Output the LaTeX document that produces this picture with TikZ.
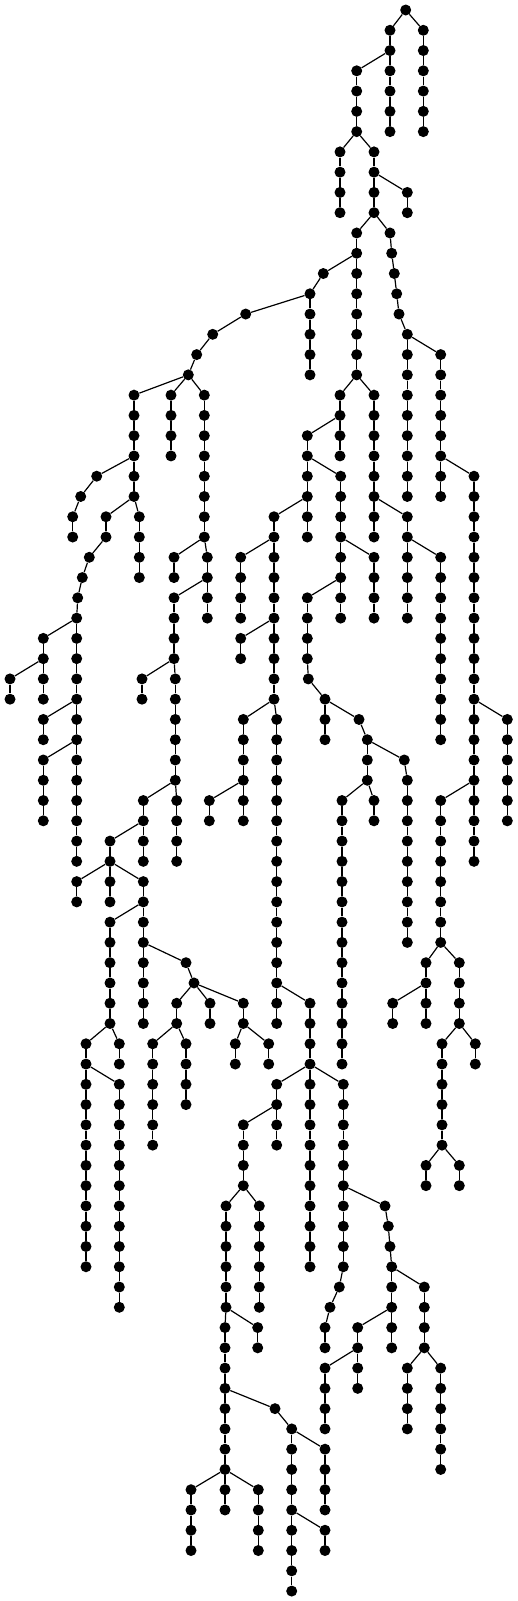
\documentclass[tikz,border=0pt]{standalone}
\usetikzlibrary{calc}
\tikzset{
  tdot/.style={circle,fill=black,draw=none,inner sep=0pt,minimum size=11pt},
  tedge/.style={line width=1.2pt,black}
}
\newcommand\ch[5]{%
  \foreach \l in {#4,...,#5}{\node[tdot] (#1-\l) at (#3,{-10-20.27*\l}) {};}%
  \draw[tedge] (#2) -- (#1-#4);%
  \foreach \l in {#4,...,#5}{\ifnum\l>#4\relax\pgfmathtruncatemacro\mprev{\l-1}\draw[tedge] (#1-\mprev) -- (#1-\l);\fi}%
}
\newcommand\nd[4]{\node[tdot] (#1) at (#3,{-10-20.27*#4}) {};\draw[tedge] (#2) -- (#1);}
\begin{document}
\begin{tikzpicture}[x=1pt,y=1pt]
\useasboundingbox (0,0) rectangle (518,-1601);
\node[tdot] (r) at (405.7,-10) {};
\ch{a}{r}{390}{1}{6}
\ch{b}{r}{423.3}{1}{6}
\ch{c}{a-2}{356.7}{3}{6}
\ch{d}{c-6}{340}{7}{10}
\ch{e}{c-6}{374}{7}{10}
\ch{f}{e-8}{407.3}{9}{10}
\ch{g}{e-10}{356.7}{11}{18}
\nd{h11}{e-10}{390}{11}
\nd{h12}{h11}{391.7}{12}
\nd{h13}{h12}{394.3}{13}
\nd{h14}{h13}{396.7}{14}
\nd{h15}{h14}{399}{15}
\ch{h}{h15}{407.3}{16}{24}
\nd{i13}{g-12}{323.3}{13}
\ch{i}{i13}{310}{14}{18}
\nd{i15}{i-14}{245.7}{15}
\nd{i16}{i15}{212.7}{16}
\nd{i17}{i16}{196.7}{17}
\nd{i18}{i17}{188.3}{18}
\ch{j}{i18}{134}{19}{24}
\ch{k}{i18}{171}{19}{22}
\ch{l}{i18}{204.3}{19}{26}
\nd{m23}{j-22}{96.7}{23}
\nd{m24}{m23}{80.7}{24}
\ch{m}{m24}{72.7}{25}{26}
\ch{n}{j-24}{106}{25}{26}
\nd{n27}{n-26}{89.3}{27}
\nd{n28}{n27}{82.3}{28}
\nd{n29}{n28}{77.7}{29}
\ch{o}{n29}{76.7}{30}{42}
\ch{p}{o-30}{43.3}{31}{34}
\ch{q}{p-32}{10}{33}{34}
\ch{s}{o-34}{43.3}{35}{36}
\ch{t}{o-36}{43.3}{37}{40}
\ch{u}{j-24}{139.3}{25}{28}
\ch{v}{l-26}{174}{27}{28}
\ch{w}{l-26}{207.3}{27}{30}
\ch{xx}{w-28}{174}{29}{32}
\ch{yy}{xx-32}{142}{33}{34}
\ch{zz}{xx-32}{175.3}{33}{38}
\ch{aa}{zz-38}{143.3}{39}{42}
\ch{ab}{zz-38}{176.7}{39}{42}
\ch{ac}{aa-40}{110}{41}{44}
\ch{ad}{ac-42}{76.7}{43}{44}
\ch{ae}{ac-42}{143.3}{43}{50}
\ch{af}{ae-44}{110}{45}{50}
\ch{ag}{af-50}{86}{51}{62}
\ch{ah}{af-50}{119.3}{51}{52}
\ch{ai}{ag-52}{119.3}{53}{64}
\nd{aj47}{ae-46}{186}{47}
\nd{aj48}{aj47}{194}{48}
\ch{ak}{aj48}{176.7}{49}{50}
\ch{al}{aj48}{210}{49}{50}
\ch{am}{aj48}{243.3}{49}{50}
\ch{an}{ak-50}{152.7}{51}{56}
\ch{ao}{ak-50}{186}{51}{54}
\ch{ap}{am-50}{235.3}{51}{52}
\ch{aq}{am-50}{268.7}{51}{52}
\ch{ba}{g-18}{340}{19}{22}
\ch{bb}{ba-20}{307.3}{21}{26}
\ch{bc}{bb-22}{340.7}{23}{30}
\ch{bd}{bb-24}{274}{25}{34}
\ch{be}{bd-26}{240.7}{27}{30}
\ch{bf}{bd-30}{240.7}{31}{32}
\ch{bg}{bc-26}{374}{27}{30}
\ch{bh}{bc-28}{307.3}{29}{32}
\nd{bh33}{bh-32}{308.3}{33}
\nd{bh34}{bh33}{325}{34}
\ch{bi}{bh34}{325}{35}{36}
\nd{bj35}{bh34}{359}{35}
\nd{bj36}{bj35}{367.3}{36}
\ch{bk}{bj36}{367.3}{37}{38}
\nd{bl37}{bj36}{404.3}{37}
\ch{bl}{bl37}{407.3}{38}{46}
\ch{bm}{bk-38}{342}{39}{52}
\ch{bn}{bk-38}{374}{39}{40}
\ch{bo}{bd-34}{243.3}{35}{40}
\ch{bp}{bd-34}{276.7}{35}{50}
\ch{bq}{bo-38}{209.3}{39}{40}
\ch{br}{bp-48}{310}{49}{62}
\ch{bs}{br-52}{276.7}{53}{56}
\ch{bt}{br-52}{343.3}{53}{62}
\ch{bu}{bs-54}{243.3}{55}{58}
\ch{bv}{bu-58}{226}{59}{64}
\ch{bw}{bu-58}{259.3}{59}{64}
\ch{bx}{bv-64}{225}{65}{72}
\ch{by}{bv-64}{257.7}{65}{66}
\nd{bz69}{bx-68}{275}{69}
\ch{ca}{bz69}{291.7}{70}{78}
\ch{cb}{ca-70}{325}{71}{74}
\ch{cc}{ca-74}{325}{75}{76}
\ch{cd}{bx-72}{191}{73}{76}
\ch{ce}{bx-72}{225}{73}{74}
\ch{cf}{bx-72}{258.3}{73}{76}
\nd{cg59}{bt-58}{385}{59}
\nd{cg60}{cg59}{388.3}{60}
\nd{cg61}{cg60}{390}{61}
\ch{ch}{cg61}{391.7}{62}{66}
\ch{ci}{ch-64}{357.7}{65}{68}
\ch{cj}{ci-66}{325}{67}{70}
\ch{ck}{ch-62}{424.3}{63}{66}
\ch{cl}{ck-66}{407.3}{67}{70}
\ch{cm}{ck-66}{440.7}{67}{72}
\nd{cn63}{bt-62}{339.3}{63}
\nd{cn64}{cn63}{330}{64}
\ch{co}{cn64}{325}{65}{66}
\ch{da}{g-18}{374}{19}{26}
\ch{db}{da-24}{407.3}{25}{30}
\ch{dc}{db-26}{440.7}{27}{36}
\ch{dd}{h-16}{440.7}{17}{24}
\ch{de}{dd-22}{474}{23}{42}
\ch{df}{de-34}{507.3}{35}{40}
\ch{dg}{de-38}{440.7}{39}{46}
\ch{dh}{dg-46}{426}{47}{50}
\ch{di}{dg-46}{459.3}{47}{50}
\ch{dj}{dh-48}{392.7}{49}{50}
\ch{dk}{di-50}{442}{51}{56}
\ch{dl}{di-50}{475.3}{51}{52}
\ch{dm}{dk-56}{426}{57}{58}
\ch{dn}{dk-56}{459.3}{57}{58}
\end{tikzpicture}
\end{document}
